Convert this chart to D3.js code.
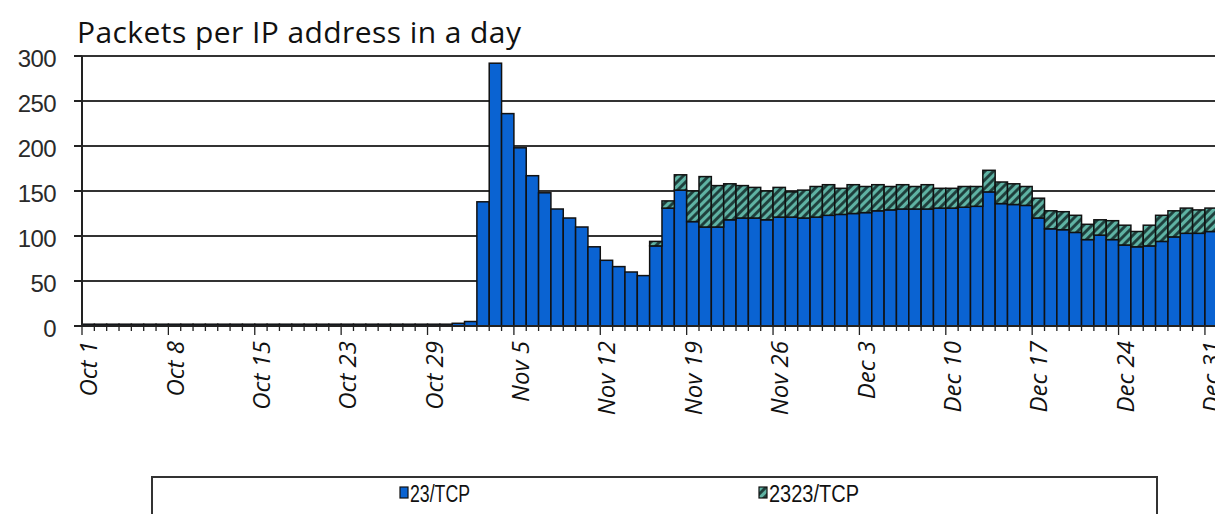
<!DOCTYPE html>
<html><head><meta charset="utf-8">
<script src="https://cdn.jsdelivr.net/npm/d3@7"></script>
<style>html,body{margin:0;padding:0;background:#fff;}svg{display:block;}</style>
</head><body><svg id="c" width="1215" height="514"></svg>
<script>
// categories: Oct 1 .. Dec 31
const categories = d3.timeDay.range(new Date(2016,9,1), new Date(2017,0,1)).map(d3.timeFormat("%b %-d"));
const tickIndex = [0,7,14,21,28,35,42,49,56,63,70,77,84,91];
const tickLabels = ["Oct 1","Oct 8","Oct 15","Oct 23","Oct 29","Nov 5","Nov 12","Nov 19","Nov 26","Dec 3","Dec 10","Dec 17","Dec 24","Dec 31"];
const yTicks = [0,50,100,150,200,250,300];
const tcp23 = [
 2,2,2,2,2,2,2,2,2,2, 2,2,2,2,2,2,2,2,2,2, 2,2,2,2,2,2,2,2,2,2,
 3,5,138,292,236,198,167,148,130,120, 110,88,73,66,60,56,89,131,151,116,
 110,110,118,120,120,118,121,121,120,121, 123,124,125,126,128,129,130,130,130,131,
 131,132,133,149,136,135,134,120,108,107, 104,96,101,96,90,88,89,94,99,103,
 103,105];
const tcp2323 = [
 0,0,0,0,0,0,0,0,0,0, 0,0,0,0,0,0,0,0,0,0, 0,0,0,0,0,0,0,0,0,0,
 0,0,0,0,0,0,0,0,0,0, 0,0,0,0,0,0,5,8,17,34,
 56,46,40,36,34,32,33,28,31,34, 34,29,32,29,29,26,27,25,27,22,
 22,23,22,24,24,23,21,22,20,20, 19,17,17,21,22,17,23,29,29,28,
 26,26];
const seriesNames = ["23/TCP","2323/TCP"];

const svg = d3.select("#c");
const x0 = 82, dayW = 12.34;
const x = d3.scaleBand().domain(d3.range(categories.length)).range([x0, x0 + dayW*categories.length]).padding(0);
const y = d3.scaleLinear().domain([0,300]).range([326,56]);

const defs = svg.append("defs");
const pat = defs.append("pattern").attr("id","hatch").attr("patternUnits","userSpaceOnUse")
  .attr("width",6).attr("height",6).attr("patternTransform","rotate(45)");
pat.append("rect").attr("width",6).attr("height",6).attr("fill","#5fb3a4");
pat.append("line").attr("x1",1.5).attr("y1",0).attr("x2",1.5).attr("y2",6).attr("stroke","#1c3a38").attr("stroke-width",2.8);

// gridlines
svg.append("g").selectAll("line").data(yTicks.filter(d=>d>0)).join("line")
  .attr("x1",74).attr("x2",1215).attr("y1",d=>y(d)).attr("y2",d=>y(d))
  .attr("stroke","#333").attr("stroke-width",2);

// bars
const stackData = categories.map((c,i)=>({i, a:tcp23[i], b:tcp2323[i]}));
const stack = d3.stack().keys(["a","b"])(stackData);
const fills = ["#0a63d2","url(#hatch)"];
svg.append("g").selectAll("g").data(stack).join("g")
  .attr("fill",(d,k)=>fills[k])
  .selectAll("rect").data(d=>d.filter(p=>p[1]-p[0]>0)).join("rect")
  .attr("x",p=>x(p.data.i)).attr("width",x.bandwidth())
  .attr("y",p=>y(p[1])).attr("height",p=>y(p[0])-y(p[1]))
  .attr("stroke","#111").attr("stroke-width",1.5);

// y axis
svg.append("line").attr("x1",x0).attr("x2",x0).attr("y1",y(300)).attr("y2",y(0)+1).attr("stroke","#222").attr("stroke-width",2);
svg.append("g").selectAll("line").data(yTicks).join("line")
  .attr("x1",74).attr("x2",x0).attr("y1",d=>y(d)).attr("y2",d=>y(d)).attr("stroke","#222").attr("stroke-width",2);
svg.append("g").selectAll("text").data(yTicks).join("text")
  .attr("x",56).attr("y",d=>y(d)+2).attr("dy","0.36em").attr("text-anchor","end")
  .attr("font-family","Liberation Sans, Arial, sans-serif").attr("font-size",24).attr("fill","#2a2a2a")
  .attr("letter-spacing",-0.6)
  .text(d=>d);

// x axis
svg.append("line").attr("x1",x0-8).attr("x2",1215).attr("y1",y(0)).attr("y2",y(0)).attr("stroke","#222").attr("stroke-width",2.2);
const bounds = d3.range(categories.length+1);
svg.append("g").selectAll("line").data(bounds).join("line")
  .attr("x1",i=>x0+i*x.step()).attr("x2",i=>x0+i*x.step())
  .attr("y1",y(0)).attr("y2",i=> i%7===0 ? y(0)+9 : y(0)+5)
  .attr("stroke","#222").attr("stroke-width",1.3);

svg.append("g").selectAll("text").data(tickIndex).join("text")
  .attr("transform",(d)=>`translate(${x(d)+x.bandwidth()/2+9},341) rotate(-90)`)
  .attr("text-anchor","end")
  .attr("font-family","Open Sans, sans-serif").attr("font-style","italic").attr("font-size",24).attr("fill","#111")
  .text((d,k)=>tickLabels[k]);

// title
svg.append("text").attr("x",77).attr("y",43)
  .attr("font-family","Open Sans, sans-serif").attr("font-size",30).attr("fill","#111")
  .attr("textLength",444).attr("lengthAdjust","spacing")
  .text("Packets per IP address in a day");

// legend
svg.append("rect").attr("x",152).attr("y",477).attr("width",1005).attr("height",60)
  .attr("fill","#fff").attr("stroke","#333").attr("stroke-width",2);
const legX = [400, 759];
const legW = [60, 90];
const leg = svg.append("g").selectAll("g").data(seriesNames).join("g")
  .attr("transform",(d,k)=>`translate(${legX[k]},0)`);
leg.append("rect").attr("x",0).attr("y",487).attr("width",8).attr("height",11)
  .attr("fill",(d,k)=>k===0?"#0a63d2":"url(#hatch)").attr("stroke","#111").attr("stroke-width",1.2);
leg.append("text").attr("x",10).attr("y",502)
  .attr("font-family","Liberation Sans, Arial, sans-serif").attr("font-size",23).attr("fill","#111")
  .attr("textLength",(d,k)=>legW[k]).attr("lengthAdjust","spacingAndGlyphs")
  .text(d=>d);
</script></body></html>
